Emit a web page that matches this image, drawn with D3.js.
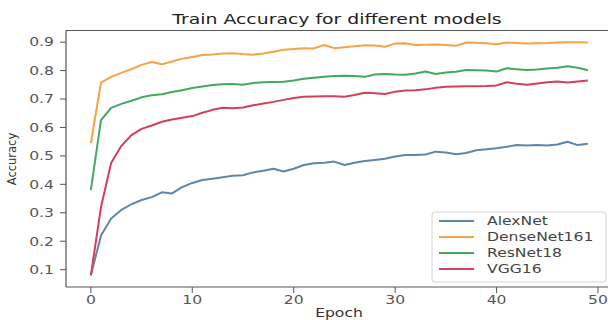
<!DOCTYPE html>
<html>
<head>
<meta charset="utf-8">
<script src="https://cdn.jsdelivr.net/npm/d3@7"></script>
<style>
  body { margin: 0; background: #fff; }
  text { font-family: "DejaVu Sans", sans-serif; }
</style>
</head>
<body>
<div id="chart"></div>
<script>
// epochs and accuracy per model
var epochs = d3.range(0, 50);
var seriesNames = ["AlexNet", "DenseNet161", "ResNet18", "VGG16"];
var alexnet = [0.08, 0.22, 0.28, 0.31, 0.33, 0.345, 0.355, 0.372, 0.368, 0.39,
  0.405, 0.415, 0.42, 0.425, 0.43, 0.432, 0.442, 0.448, 0.455, 0.445,
  0.455, 0.468, 0.474, 0.476, 0.48, 0.468, 0.476, 0.482, 0.486, 0.49,
  0.498, 0.503, 0.503, 0.505, 0.515, 0.512, 0.506, 0.51, 0.52, 0.523,
  0.527, 0.532, 0.538, 0.537, 0.538, 0.537, 0.54, 0.55, 0.538, 0.543];
var densenet = [0.545, 0.758, 0.778, 0.792, 0.805, 0.82, 0.83, 0.822, 0.832, 0.842,
  0.848, 0.855, 0.857, 0.86, 0.861, 0.858, 0.856, 0.86, 0.866, 0.873,
  0.876, 0.879, 0.878, 0.89, 0.879, 0.882, 0.886, 0.889, 0.888, 0.884,
  0.895, 0.896, 0.89, 0.891, 0.892, 0.89, 0.887, 0.899, 0.898, 0.896,
  0.893, 0.899, 0.897, 0.895, 0.896, 0.897, 0.899, 0.9, 0.9, 0.899];
var resnet = [0.38, 0.626, 0.669, 0.683, 0.694, 0.706, 0.713, 0.717, 0.725, 0.731,
  0.739, 0.744, 0.749, 0.752, 0.753, 0.75, 0.756, 0.759, 0.76, 0.761,
  0.765, 0.771, 0.775, 0.778, 0.781, 0.782, 0.781, 0.778, 0.786, 0.788,
  0.786, 0.785, 0.79, 0.797, 0.788, 0.793, 0.796, 0.802, 0.801, 0.8,
  0.797, 0.808, 0.805, 0.802, 0.804, 0.807, 0.81, 0.815, 0.81, 0.801];
var vgg = [0.08, 0.32, 0.475, 0.535, 0.573, 0.595, 0.607, 0.62, 0.628, 0.634,
  0.64, 0.652, 0.662, 0.669, 0.668, 0.67, 0.678, 0.684, 0.69, 0.697,
  0.704, 0.708, 0.709, 0.71, 0.71, 0.708, 0.714, 0.722, 0.72, 0.718,
  0.726, 0.73, 0.731, 0.734, 0.74, 0.743, 0.744, 0.745, 0.745, 0.746,
  0.748, 0.759, 0.754, 0.75, 0.755, 0.759, 0.762, 0.758, 0.762, 0.765];
var xTicks = [0, 10, 20, 30, 40, 50];
var yTicks = [0.1, 0.2, 0.3, 0.4, 0.5, 0.6, 0.7, 0.8, 0.9];

var allSeries = [alexnet, densenet, resnet, vgg];
var colors = ["#5f86aa", "#f2a447", "#44a860", "#d2405e"];

var width = 608, height = 320;
var sx = 1.3; // the picture is stretched sideways, so are its texts

var svg = d3.select("#chart")
    .append("svg")
    .attr("width", width)
    .attr("height", height);

var x = d3.scaleLinear().domain([-2.45, 51.45]).range([66, 612.7]);
var y = d3.scaleLinear().domain([0.039, 0.941]).range([287, 30.5]);

function stretchedText(g, px, py, str, size, anchor) {
    return g.append("text")
        .attr("transform", "translate(" + px + "," + py + ") scale(" + sx + ",1)")
        .attr("text-anchor", anchor)
        .style("font-size", size + "px")
        .text(str);
}

// title
stretchedText(svg, 337, 24, "Train Accuracy for different models", 14.5, "middle")
    .attr("fill", "#222");

// lines
var line = d3.line()
    .x(function (d, i) { return x(epochs[i]); })
    .y(function (d) { return y(d); });

var plot = svg.append("g");
allSeries.forEach(function (s, i) {
    plot.append("path")
        .datum(s)
        .attr("fill", "none")
        .attr("stroke", colors[i])
        .attr("stroke-width", 2)
        .attr("stroke-linejoin", "round")
        .attr("d", line);
});

// spines
var spineColor = "#555";
svg.append("line").attr("x1", 66).attr("x2", 66).attr("y1", 30.5).attr("y2", 287)
    .attr("stroke", spineColor).attr("stroke-width", 1.2);
svg.append("line").attr("x1", 66).attr("x2", 612.7).attr("y1", 287).attr("y2", 287)
    .attr("stroke", spineColor).attr("stroke-width", 1.2);
svg.append("line").attr("x1", 66).attr("x2", 612.7).attr("y1", 30.5).attr("y2", 30.5)
    .attr("stroke", spineColor).attr("stroke-width", 1.2);

// y axis ticks
var yAxis = svg.append("g");
yTicks.forEach(function (t) {
    yAxis.append("line")
        .attr("x1", 60).attr("x2", 66)
        .attr("y1", y(t)).attr("y2", y(t))
        .attr("stroke", spineColor);
    stretchedText(yAxis, 54, y(t) + 4.3, t.toFixed(1), 12, "end").attr("fill", "#555");
});

// x axis ticks
var xAxis = svg.append("g");
xTicks.forEach(function (t) {
    xAxis.append("line")
        .attr("x1", x(t)).attr("x2", x(t))
        .attr("y1", 287).attr("y2", 293)
        .attr("stroke", spineColor);
    stretchedText(xAxis, x(t), 304, String(t), 12, "middle").attr("fill", "#555");
});

// axis labels
stretchedText(svg, 339, 316.5, "Epoch", 12, "middle").attr("fill", "#333");
svg.append("text")
    .attr("transform", "translate(16,159) rotate(-90)")
    .attr("text-anchor", "middle")
    .style("font-size", "11.5px")
    .attr("fill", "#333")
    .text("Accuracy");

// legend
var legend = svg.append("g");
legend.append("rect")
    .attr("x", 432).attr("y", 212)
    .attr("width", 174).attr("height", 70)
    .attr("rx", 3)
    .attr("fill", "#fff")
    .attr("fill-opacity", 0.85)
    .attr("stroke", "#d4d4d4");
seriesNames.forEach(function (name, i) {
    var ly = 221 + i * 16;
    legend.append("line")
        .attr("x1", 439).attr("x2", 474)
        .attr("y1", ly).attr("y2", ly)
        .attr("stroke", colors[i])
        .attr("stroke-width", 2);
    stretchedText(legend, 487, ly + 4.3, name, 12, "start").attr("fill", "#444");
});
</script>
</body>
</html>
